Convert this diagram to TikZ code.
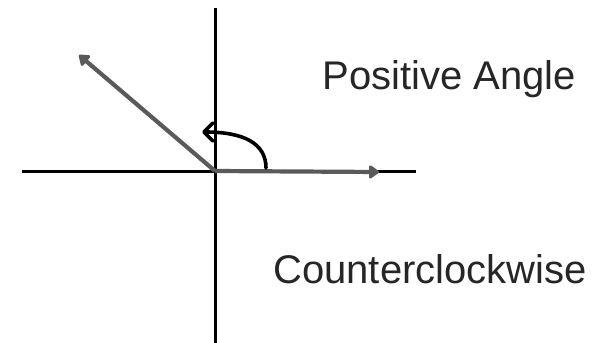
\documentclass[tikz,border=0pt]{standalone}
\usepackage{fontspec}
\setmainfont{Liberation Sans}
\usepackage{xcolor}
\usetikzlibrary{arrows.meta}
\definecolor{rayGray}{HTML}{5A5A5A}
\definecolor{txtGray}{HTML}{262626}

\begin{document}
\begin{tikzpicture}[
  x=0.5pt, y=-0.5pt,
  axis/.style={line width=1.5pt, black},
  ray/.style={line width=2.1pt, color=rayGray, -{Triangle[length=5.5pt,width=7.5pt,round]}},
  turn/.style={line width=1.8pt, black, line cap=round, -{Straight Barb[length=4.5pt,width=9pt,round]}},
  lab/.style={font=\fontsize{20pt}{24pt}\selectfont, text=txtGray, inner sep=0pt, anchor=base west}
]
\useasboundingbox (0,0) rectangle (607,343);
% axes
\coordinate (O) at (215,171);
\coordinate (xl) at (22,171);
\coordinate (xr) at (416,171);
\coordinate (yt) at (215,8);
\coordinate (yb) at (215,343);
\draw[axis] (xl) -- (xr);
\draw[axis] (yt) -- (yb);
% initial and terminal sides
\coordinate (init) at (379,172);
\coordinate (term) at (79,55);
\draw[ray] (O) -- (init);
\draw[ray] (O) -- (term);
% rotation arc
\coordinate (arcA) at (266,168);
\coordinate (arcB) at (202,132);
\draw[turn] (arcA) .. controls (266,143) and (243,132) .. (arcB);
% labels
\node[lab] (pos) at (322,89) {Positive Angle};
\node[lab] (ccw) at (273,283) {Counterclockwise};
\end{tikzpicture}
\end{document}
